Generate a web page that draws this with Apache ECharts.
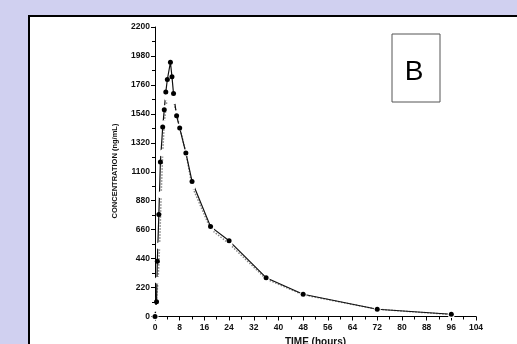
<!DOCTYPE html>
<html>
<head>
<meta charset="utf-8">
<script src="https://cdn.jsdelivr.net/npm/echarts@6/dist/echarts.min.js"></script>
<style>
  html, body { margin: 0; padding: 0; background: #d0d0f0; }
  #chart { width: 517px; height: 344px; }
</style>
</head>
<body>
<div id="chart"></div>
<script>
// time (hours) and concentration (ng/mL)
const filledTimes = [0, 0.5, 0.75, 1.25, 1.75, 2.5, 3, 3.5, 4, 5, 5.5, 6, 7, 8, 10, 12, 18, 24, 36, 48, 72, 96]
const filledConc = [0, 113, 420, 776, 1175, 1440, 1572, 1706, 1801, 1932, 1822, 1694, 1525, 1432, 1243, 1026, 683, 575, 295, 169, 55, 17]

const openTimes = [0, 0.25, 1, 1.5, 2, 2.5, 3, 3.5, 4, 4.5, 5, 5.5, 6, 7, 8, 10, 12, 18, 24, 36, 48, 72, 96]
const openConc = [0, 62, 275, 537, 925, 1243, 1465, 1580, 1666, 1700, 1655, 1660, 1640, 1540, 1440, 1245, 990, 664, 554, 285, 165, 55, 15]

const xTicks = [0, 8, 16, 24, 32, 40, 48, 56, 64, 72, 80, 88, 96, 104]
const yTicks = [0, 220, 440, 660, 880, 1100, 1320, 1540, 1760, 1980, 2200]

const toPairs = (xs, ys) => xs.map((x, i) => [x, ys[i]])

const chart = echarts.init(document.getElementById('chart'))

const axisFont = { color: '#111', fontSize: 8, fontWeight: 'bold', fontFamily: 'Liberation Sans' }

chart.setOption({
  animation: false,
  backgroundColor: '#d0d0f0',
  grid: { left: 155, right: 41, top: 27, bottom: 27.5, containLabel: false, outerBoundsMode: 'none' },
  graphic: [
    {
      type: 'rect',
      z: -10,
      shape: { x: 29, y: 16, width: 600, height: 400 },
      style: { fill: '#fff', stroke: '#000', lineWidth: 2 },
    },
    {
      type: 'rect',
      shape: { x: 392, y: 34, width: 48, height: 68 },
      style: { fill: '#fff', stroke: '#555', lineWidth: 1 },
    },
    {
      type: 'text',
      x: 414,
      y: 72,
      style: {
        text: 'B',
        fontSize: 28,
        fontFamily: 'Liberation Sans',
        fill: '#000',
        align: 'center',
        verticalAlign: 'middle',
      },
    },
    {
      type: 'text',
      x: 115,
      y: 171,
      rotation: Math.PI / 2,
      style: {
        text: 'CONCENTRATION (ng/mL)',
        fontSize: 7.5,
        fontWeight: 'bold',
        fontFamily: 'Liberation Sans',
        fill: '#111',
        align: 'center',
        verticalAlign: 'middle',
      },
    },
  ],
  xAxis: {
    type: 'value',
    min: 0,
    max: 104,
    interval: 8,
    name: 'TIME (hours)',
    nameLocation: 'middle',
    nameGap: 20,
    nameTextStyle: { ...axisFont, fontSize: 10, verticalAlign: 'top' },
    axisLine: { onZero: false, lineStyle: { color: '#000', width: 1 } },
    axisTick: { length: 4, lineStyle: { color: '#000' } },
    minorTick: { show: true, splitNumber: 2, length: 3, lineStyle: { color: '#000' } },
    axisLabel: {
      ...axisFont,
      fontSize: 8.5,
      margin: 7,
      formatter: (v) => (xTicks.includes(v) ? String(v) : ''),
    },
    splitLine: { show: false },
  },
  yAxis: {
    type: 'value',
    min: 0,
    max: 2200,
    interval: 220,
    axisLine: { show: true, lineStyle: { color: '#000', width: 1 } },
    axisTick: { show: true, length: 4, lineStyle: { color: '#000' } },
    minorTick: { show: true, splitNumber: 2, length: 3, lineStyle: { color: '#000' } },
    axisLabel: {
      ...axisFont,
      fontSize: 8.5,
      margin: 5,
      formatter: (v) => (yTicks.includes(v) ? String(v) : ''),
    },
    splitLine: { show: false },
  },
  series: [
    {
      name: 'open',
      type: 'line',
      data: toPairs(openTimes, openConc),
      symbol: 'emptyCircle',
      symbolSize: 5,
      lineStyle: { color: '#888', width: 1.5, type: 'dotted' },
      itemStyle: { color: '#fff', borderColor: '#666', borderWidth: 1 },
    },
    {
      name: 'filled',
      type: 'line',
      data: toPairs(filledTimes, filledConc),
      symbol: 'circle',
      symbolSize: 5,
      lineStyle: { color: '#111', width: 1.2 },
      itemStyle: { color: '#000' },
    },
  ],
})
</script>
</body>
</html>
